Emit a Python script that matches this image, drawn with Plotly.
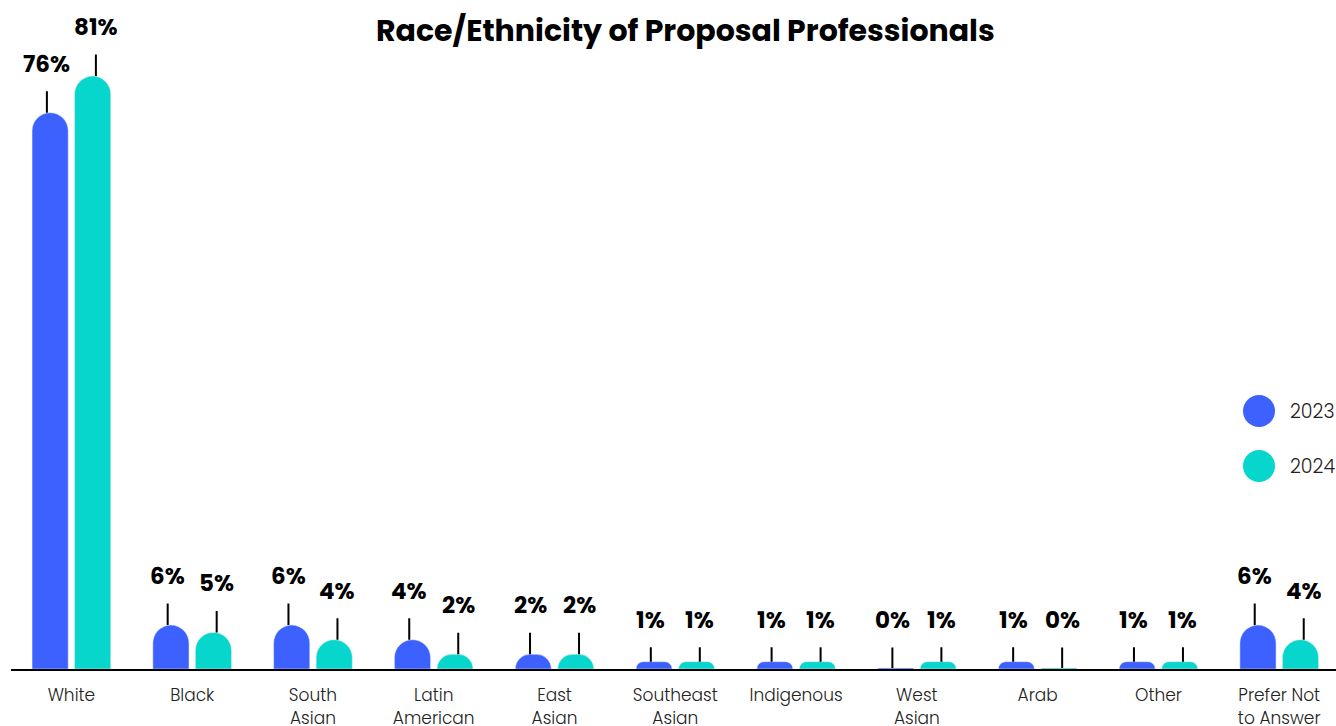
import plotly.graph_objects as go

categories = ["White", "Black", "South<br>Asian", "Latin<br>American", "East<br>Asian",
              "Southeast<br>Asian", "Indigenous", "West<br>Asian", "Arab", "Other",
              "Prefer Not<br>to Answer"]
values_2023 = [76, 6, 6, 4, 2, 1, 1, 0.15, 1, 1, 6]
values_2024 = [81, 5, 4, 2, 2, 1, 1, 1, 0.15, 1, 4]
labels_2023 = ["76%", "6%", "6%", "4%", "2%", "1%", "1%", "0%", "1%", "1%", "6%"]
labels_2024 = ["81%", "5%", "4%", "2%", "2%", "1%", "1%", "1%", "0%", "1%", "4%"]
series_names = ["2023", "2024"]
colors = ["#3D61FF", "#06D6CC"]

FONT = "Poppins, Inter, 'Open Sans', sans-serif"

fig = go.Figure()
for name, vals, col in zip(series_names, [values_2023, values_2024], colors):
    fig.add_trace(go.Bar(
        x=categories, y=vals, name=name, marker=dict(color=col, cornerradius="50%"),
        showlegend=False, hoverinfo="skip",
    ))

annotations = []
for shift, vals, labs in [(-24.5, values_2023, labels_2023), (24.5, values_2024, labels_2024)]:
    for c, v, t in zip(categories, vals, labs):
        vv = round(v)
        ay = -49 if vv >= 2 else -(48 - 6 * vv)
        annotations.append(dict(
            x=c, y=v, xref="x", yref="y", xshift=shift, text=t,
            showarrow=True, arrowhead=0, arrowwidth=2, arrowcolor="#000",
            ax=0, ay=ay, startstandoff=10,
            font=dict(family=FONT, size=23, color="#000", weight=700),
        ))

# legend (drawn manually to get large round markers)
shapes = []
for i, (name, col) in enumerate(zip(series_names, colors)):
    py = 411 + i * 55
    yp = (669 - py) / 669
    xp = (1259 - 11) / 1325
    shapes.append(dict(type="circle", xref="paper", yref="paper", xsizemode="pixel",
                       ysizemode="pixel", xanchor=xp, yanchor=yp, x0=-16, x1=16,
                       y0=-16, y1=16, fillcolor=col, line=dict(width=0)))
    annotations.append(dict(x=(1288 - 11) / 1325, y=yp, xref="paper", yref="paper",
                            xanchor="left", yanchor="middle", text=name, showarrow=False,
                            font=dict(family=FONT, size=19, color="#222", weight=300)))

fig.update_layout(
    width=1336, height=726,
    margin=dict(l=11, r=0, t=0, b=57),
    paper_bgcolor="white", plot_bgcolor="white",
    barmode="group", bargap=0.296, bargroupgap=0.15,
    title=dict(text="Race/Ethnicity of Proposal Professionals", x=0.513, xanchor="center",
               y=0.958, yanchor="middle", yref="container",
               font=dict(family=FONT, size=30, color="#000", weight=700)),
    xaxis=dict(showline=True, linecolor="#000", linewidth=2, ticks="", automargin=False,
               range=[-0.5, 10.47], ticklabelstandoff=10,
               tickfont=dict(family=FONT, size=17, color="#222", weight=300), showgrid=False),
    yaxis=dict(range=[0, 91.4], visible=False, showgrid=False, zeroline=False,
               automargin=False),
    annotations=annotations, shapes=shapes,
)

fig.write_html("out.html", config={"displayModeBar": False},
               post_script="document.body.style.margin='0';document.body.style.overflow='hidden';")
